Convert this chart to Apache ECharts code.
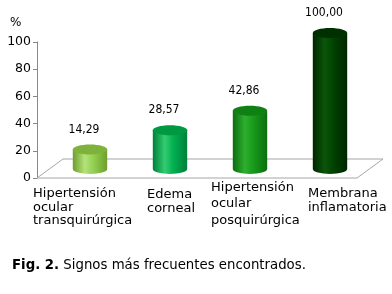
<!DOCTYPE html>
<html><head><meta charset="utf-8">
<script src="https://cdn.jsdelivr.net/npm/echarts@6/dist/echarts.min.js"></script>
<style>html,body{margin:0;padding:0;background:#fff}#c{width:392px;height:294px}</style>
</head><body><div id="c"></div>
<script>
var categories = ['Hipertensión\nocular\ntransquirúrgica', 'Edema\ncorneal', 'Hipertensión\nocular\nposquirúrgica', 'Membrana\ninflamatoria'];
var values = [14.29, 28.57, 42.86, 100.00];
var yTicks = [0, 20, 40, 60, 80, 100];
var barColors = [
  {dark:'#6e9e2c', light:'#b4e27a', mid:'#92d050', top:'#7fb23a'},
  {dark:'#00803a', light:'#33cc70', mid:'#00b050', top:'#009840'},
  {dark:'#0c6e10', light:'#2fae2f', mid:'#189a1a', top:'#108014'},
  {dark:'#002600', light:'#0a560a', mid:'#004200', top:'#003000'}
];
var labelPos = [[33,187,13.5],[147,188,13.5],[211,179,16.5],[308,187,13.5]];
var FONT = 'DejaVu Sans';
var DX = 13, DY = -9;

var chart = echarts.init(document.getElementById('c'));

function floorItem(params, api) {
  var cs = params.coordSys;
  var x = cs.x, y = cs.y + cs.height, w = cs.width;
  return {
    type: 'polygon', silent: true,
    shape: {points: [[x, y], [x + 26, y - 19], [x + w + 26, y - 19], [x + w, y]]},
    style: {fill: '#fff', stroke: '#a6a6a6', lineWidth: 1}
  };
}

function barItem(params, api) {
  var i = api.value(0), v = api.value(1);
  var top = api.coord([i, v]), base = api.coord([i, 0]);
  var cx = top[0] + DX, yt = top[1] + DY, yb = base[1] + DY;
  var w = api.size([1, 0])[0] * 0.43, rx = w / 2, ry = 5;
  var c = barColors[i];
  var grad = new echarts.graphic.LinearGradient(0, 0, 1, 0, [
    {offset: 0, color: c.dark}, {offset: 0.35, color: c.light}, {offset: 0.6, color: c.mid}, {offset: 1, color: c.dark}
  ]);
  var xl = cx - rx, xr = cx + rx;
  return {
    type: 'group',
    children: [
      {type: 'path', shape: {pathData: 'M' + xl + ',' + yt + ' L' + xl + ',' + yb + ' A' + rx + ',' + ry + ' 0 0 0 ' + xr + ',' + yb + ' L' + xr + ',' + yt + ' Z'},
        style: {fill: grad}},
      {type: 'ellipse', shape: {cx: cx, cy: yt, rx: rx, ry: ry}, style: {fill: c.top}},
      {type: 'text', x: cx - 6, y: yt - 20,
        style: {text: v.toFixed(2).replace('.', ','), fill: '#000', font: '12px "DejaVu Sans Condensed", "Liberation Sans", sans-serif', align: 'center', verticalAlign: 'middle'}}
    ]
  };
}

var graphics = categories.map(function (c, i) {
  return {type: 'text', left: labelPos[i][0], top: labelPos[i][1],
    style: {text: c, fill: '#000', font: '13px "' + FONT + '"', lineHeight: labelPos[i][2]}};
});
graphics.push({type: 'text', left: 10, top: 17, style: {text: '%', fill: '#000', font: '12px "' + FONT + '"'}});
graphics.push({type: 'text', left: 12, top: 259, style: {
  text: '{b|Fig. 2.} Signos más frecuentes encontrados.',
  rich: {b: {fontWeight: 'bold', fontSize: 13.3, fontFamily: FONT, fill: '#000'}},
  fontSize: 13.3, fontFamily: FONT, fill: '#000'}});

chart.setOption({
  animation: false,
  grid: {left: 37, right: 35, top: 42, bottom: 116},
  xAxis: {type: 'category', data: categories, axisLine: {show: false}, axisTick: {show: false}, axisLabel: {show: false}},
  yAxis: {type: 'value', min: yTicks[0], max: yTicks[yTicks.length - 1], interval: 20,
    axisLine: {show: true, lineStyle: {color: '#888'}},
    axisTick: {show: true, length: 4, lineStyle: {color: '#888'}},
    splitLine: {show: false},
    axisLabel: {color: '#000', fontSize: 12.5, fontFamily: FONT, margin: 6}},
  series: [
    {type: 'custom', renderItem: floorItem, data: [[0, 0]], z: 1, silent: true},
    {type: 'custom', renderItem: barItem, data: values.map(function (v, i) { return [i, v]; }), z: 3}
  ],
  graphic: graphics
});
</script></body></html>
